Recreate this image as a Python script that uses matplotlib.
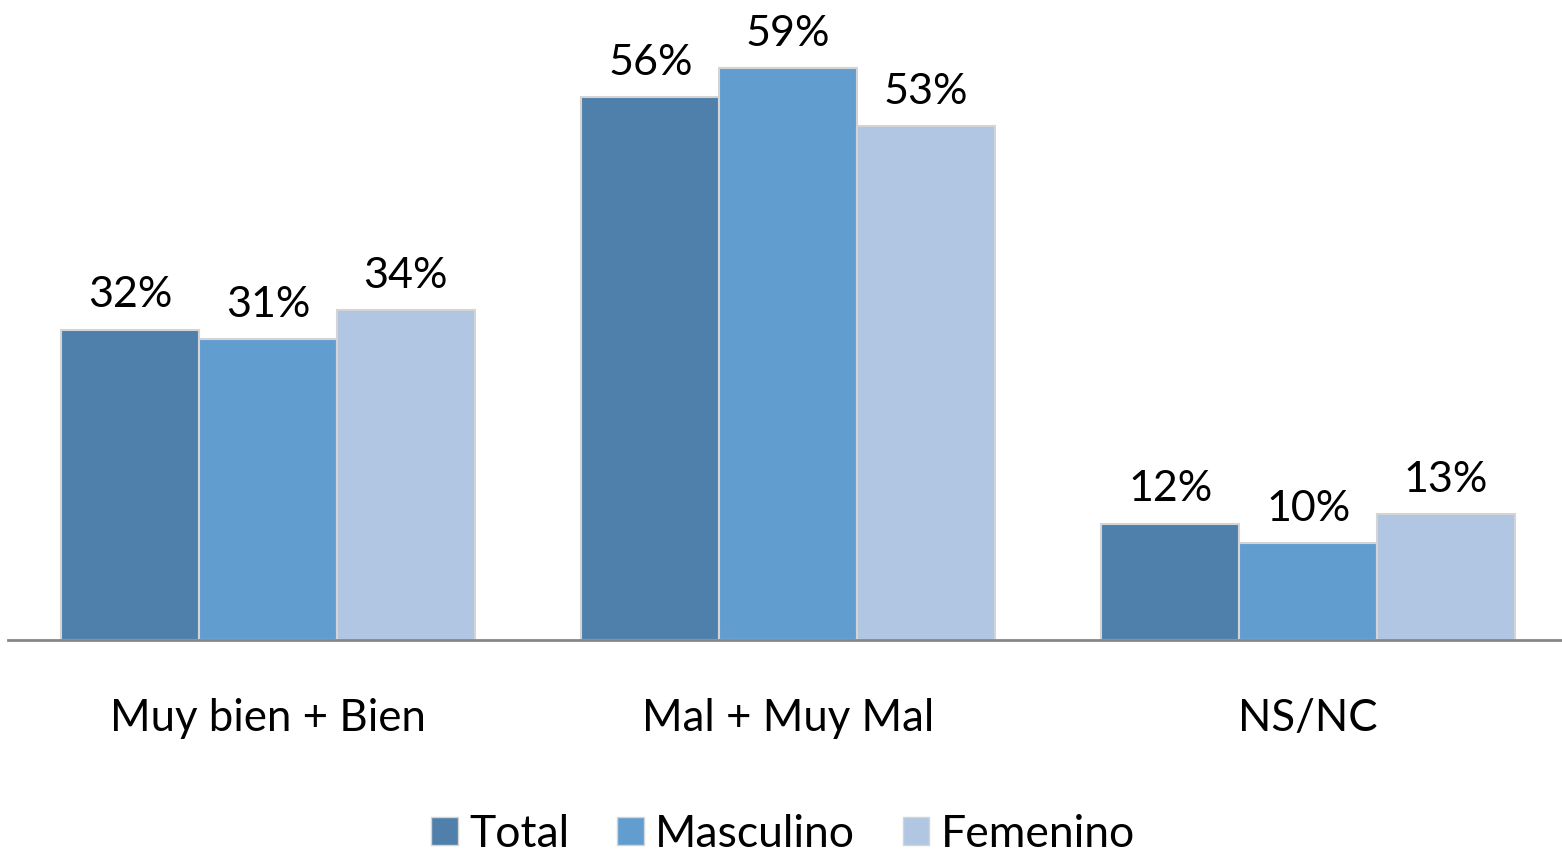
import matplotlib.pyplot as plt
import numpy as np
from matplotlib.patches import Patch

categories = ['Muy bien + Bien', 'Mal + Muy Mal', 'NS/NC']
series_names = ['Total', 'Masculino', 'Femenino']
total = [32, 56, 12]
masculino = [31, 59, 10]
femenino = [34, 53, 13]

colors = ['#4F80AB', '#629DD0', '#B1C6E2']
plt.rcParams['font.family'] = ['Lato', 'DejaVu Sans']

fig = plt.figure(figsize=(15.62, 8.55), dpi=100)
ax = fig.add_axes([8 / 1562, 215 / 855, 1554 / 1562, 640 / 855])

x = np.arange(len(categories))
w = 0.265
for i, (vals, c) in enumerate(zip([total, masculino, femenino], colors)):
    pos = x + (i - 1) * w
    bars = ax.bar(pos, vals, width=w, color=c, edgecolor='#D4D4D4', linewidth=1.5, zorder=2)
    for b, v in zip(bars, vals):
        ax.annotate(f'{v}%', (b.get_x() + b.get_width() / 2, v), xytext=(0, 11),
                    textcoords='offset points', ha='center', va='bottom', fontsize=31)

ax.set_xlim(-0.5, 2.488)
ax.set_ylim(0, 66)
for s in ['top', 'right', 'left']:
    ax.spines[s].set_visible(False)
ax.spines['bottom'].set_color('#868686')
ax.spines['bottom'].set_linewidth(2)
ax.set_yticks([])
ax.set_xticks(x)
ax.set_xticklabels(categories, fontsize=31.5)
ax.tick_params(axis='x', length=0, pad=42)

handles = [Patch(facecolor=c, edgecolor='#D4D4D4', label=n) for c, n in zip(colors, series_names)]
fig.legend(handles=handles, loc='center', bbox_to_anchor=(783 / 1562, 1 - 834 / 855),
           ncol=3, frameon=False, fontsize=32, handlelength=0.6, handleheight=0.6,
           handletextpad=0.25, columnspacing=1.08)

fig.savefig('out.png', dpi=100)
